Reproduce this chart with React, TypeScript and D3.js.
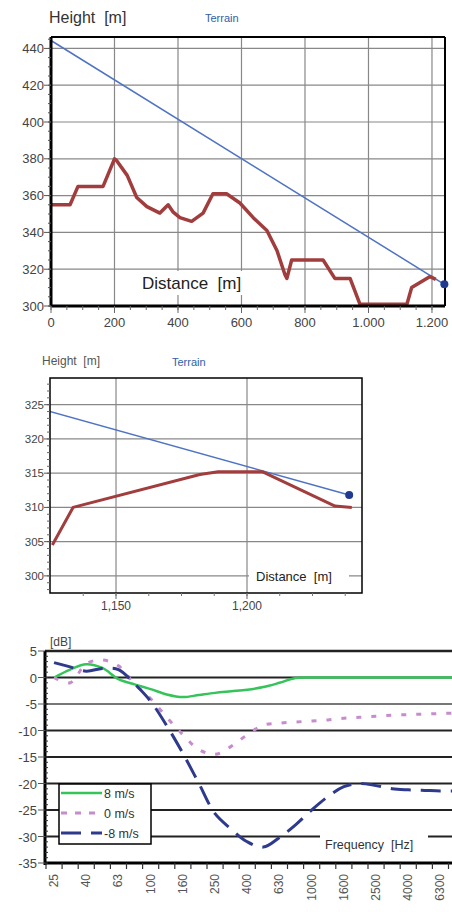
import React from "react";
import * as d3 from "d3";

// ---------- Top chart data ----------
const topDistance = [0, 60, 85, 164, 200, 207, 240, 270, 302, 343, 369, 385, 406, 443, 479, 510, 553, 595, 637, 680, 712, 737, 743, 758, 857, 894, 942, 973, 1121, 1136, 1194, 1212];
const topHeight = [355, 355, 365, 365, 380, 379, 371, 359, 354, 350.5, 355, 351, 348, 346, 350.5, 361, 361, 356, 348, 341, 330, 317, 315, 325, 325, 315, 315, 301, 301, 310, 316, 314.5];
const sightDistance = [0, 1239];
const sightHeight = [444.3, 311.8];
const topXTicks = [0, 200, 400, 600, 800, 1000, 1200];
const topXLabels = ["0", "200", "400", "600", "800", "1.000", "1.200"];
const topYTicks = [300, 320, 340, 360, 380, 400, 420, 440];

// ---------- Middle chart data ----------
const midDistance = [1125.7, 1133.6, 1182, 1189, 1206, 1233.6, 1240];
const midHeight = [304.5, 310, 314.8, 315.2, 315.2, 310.2, 310];
const midXTicks = [1150, 1200];
const midXLabels = ["1,150", "1,200"];
const midYTicks = [300, 305, 310, 315, 320, 325];

// ---------- Bottom chart data ----------
const freqBands = ["25", "31.5", "40", "50", "63", "80", "100", "125", "160", "200", "250", "315", "400", "500", "630", "800", "1000", "1250", "1600", "2000", "2500", "3150", "4000", "5000", "6300", "8000"];
const wind8 = [0, 1.5, 2.5, 1.8, -0.3, -1.3, -2.2, -3.2, -3.7, -3.3, -2.9, -2.6, -2.3, -1.8, -1.0, -0.1, 0, 0, 0, 0, 0, 0, 0, 0, 0, 0];
const wind0 = [0, -1, 2.6, 3.3, 2.2, -1.2, -4.0, -7.5, -10.8, -13.6, -14.5, -13.0, -10.8, -9.0, -8.6, -8.4, -8.2, -8.0, -7.7, -7.5, -7.3, -7.1, -7.0, -6.9, -6.8, -6.7];
const windM8 = [2.8, 2.0, 1.2, 1.7, 1.5, -1.2, -4.5, -9.1, -14.3, -20, -25.7, -28.6, -31.0, -32.0, -30.2, -27.8, -25.0, -22.5, -20.6, -20, -20.4, -21.0, -21.2, -21.3, -21.4, -21.4];
const dbTicks = [5, 0, -5, -10, -15, -20, -25, -30, -35];
const seriesNames = ["8 m/s", "0 m/s", "-8 m/s"];

const FONT = '"Liberation Sans", Arial, sans-serif';
const RED = "#a13d3d";
const BLUE = "#4f73c4";
const GRID = "#888";
const PRE = { whiteSpace: "pre" as const };

function TopChart() {
  const L = 51, R = 445, T = 37, B = 306;
  const x = d3.scaleLinear().domain([0, 1241]).range([L, R]);
  const y = d3.scaleLinear().domain([300, 446.2]).range([B, T]);
  const pts = topDistance.map((d, i) => [d, topHeight[i]] as [number, number]);
  const sight = sightDistance.map((d, i) => [d, sightHeight[i]] as [number, number]);
  const line = d3.line<[number, number]>().x(d => x(d[0])).y(d => y(d[1]));
  const minorY = d3.range(300, 446, 5);
  const minorX = d3.range(0, 1241, 50);
  return (
    <g>
      <defs>
        <clipPath id="clipTop"><rect x={L} y={T} width={R - L} height={B - T} /></clipPath>
      </defs>
      <text x={49} y={23} fontSize={16} fill="#333" style={PRE}>Height  [m]</text>
      <text x={205} y={22} fontSize={11} fill="#2f5ea8">Terrain</text>
      {topXTicks.slice(1).map(t => (
        <line key={"gx" + t} x1={x(t)} x2={x(t)} y1={T} y2={B} stroke={GRID} strokeWidth={1.2} />
      ))}
      {topYTicks.slice(1).map(t => (
        <line key={"gy" + t} x1={L} x2={R} y1={y(t)} y2={y(t)} stroke={GRID} strokeWidth={1.2} />
      ))}
      <rect x={136} y={271} width={122} height={24} fill="#fff" />
      <text x={142} y={289} fontSize={17} fill="#222" style={PRE}>Distance  [m]</text>
      <g clipPath="url(#clipTop)">
        <path d={line(sight) || ""} fill="none" stroke={BLUE} strokeWidth={1.5} />
        <path d={line(pts) || ""} fill="none" stroke={RED} strokeWidth={3.5} strokeLinejoin="round" />
      </g>
      <line x1={L} x2={R} y1={T} y2={T} stroke="#000" strokeWidth={2} />
      <line x1={R} x2={R} y1={T} y2={B} stroke="#000" strokeWidth={2} />
      <line x1={L} x2={L} y1={T} y2={B + 1} stroke="#000" strokeWidth={3} />
      <line x1={L} x2={R} y1={B} y2={B} stroke="#000" strokeWidth={3} />
      {minorY.map(t => (
        <line key={"my" + t} x1={L - 3} x2={L} y1={y(t)} y2={y(t)} stroke="#555" strokeWidth={1} />
      ))}
      {topYTicks.map(t => (
        <g key={"ly" + t}>
          <line x1={L - 7} x2={L} y1={y(t)} y2={y(t)} stroke="#555" strokeWidth={1} />
          <text x={L - 7} y={y(t) + 4.5} fontSize={13} fill="#444" textAnchor="end">{t}</text>
        </g>
      ))}
      {minorX.map(t => (
        <line key={"mx" + t} x1={x(t)} x2={x(t)} y1={B} y2={B + 4} stroke="#666" strokeWidth={1} />
      ))}
      {topXTicks.map((t, i) => (
        <g key={"lx" + t}>
          <line x1={x(t)} x2={x(t)} y1={B} y2={B + 7} stroke="#666" strokeWidth={1} />
          <text x={x(t)} y={327} fontSize={13} fill="#444" textAnchor="middle">{topXLabels[i]}</text>
        </g>
      ))}
      <circle cx={x(sightDistance[1])} cy={y(sightHeight[1])} r={4} fill="#1f3a8f" />
    </g>
  );
}

function MidChart() {
  const L = 50, R = 362, T = 378, B = 593;
  const x = d3.scaleLinear().domain([1124.8, 1243.9]).range([L, R]);
  const y = d3.scaleLinear().domain([297.5, 328.9]).range([B, T]);
  const pts = midDistance.map((d, i) => [d, midHeight[i]] as [number, number]);
  const sight = sightDistance.map((d, i) => [d, sightHeight[i]] as [number, number]);
  const line = d3.line<[number, number]>().x(d => x(d[0])).y(d => y(d[1]));
  const minorY = d3.range(298, 329, 1);
  const minorX = d3.range(1137.5, 1243, 12.5);
  return (
    <g>
      <defs>
        <clipPath id="clipMid"><rect x={L} y={T} width={R - L} height={B - T} /></clipPath>
      </defs>
      <text x={42} y={365} fontSize={12} fill="#555" style={PRE}>Height  [m]</text>
      <text x={172} y={366} fontSize={11} fill="#2f5ea8">Terrain</text>
      {midXTicks.map(t => (
        <line key={"gx" + t} x1={x(t)} x2={x(t)} y1={T} y2={B} stroke={GRID} strokeWidth={1.2} />
      ))}
      {midYTicks.map(t => (
        <line key={"gy" + t} x1={L} x2={R} y1={y(t)} y2={y(t)} stroke={GRID} strokeWidth={1.2} />
      ))}
      <rect x={249} y={566} width={100} height={21} fill="#fff" />
      <text x={256} y={581} fontSize={13} fill="#222" style={PRE}>Distance  [m]</text>
      <g clipPath="url(#clipMid)">
        <path d={line(sight) || ""} fill="none" stroke={BLUE} strokeWidth={1.5} />
        <path d={line(pts) || ""} fill="none" stroke={RED} strokeWidth={3} strokeLinejoin="round" />
      </g>
      <rect x={L} y={T} width={R - L} height={B - T} fill="none" stroke="#000" strokeWidth={1.5} />
      {minorY.map(t => (
        <line key={"my" + t} x1={L - 3} x2={L} y1={y(t)} y2={y(t)} stroke="#666" strokeWidth={1} />
      ))}
      {midYTicks.map(t => (
        <g key={"ly" + t}>
          <line x1={L - 6} x2={L} y1={y(t)} y2={y(t)} stroke="#555" strokeWidth={1} />
          <text x={L - 6} y={y(t) + 4} fontSize={11.5} fill="#444" textAnchor="end">{t}</text>
        </g>
      ))}
      {minorX.map(t => (
        <line key={"mx" + t} x1={x(t)} x2={x(t)} y1={B} y2={B + 3} stroke="#777" strokeWidth={1} />
      ))}
      {midXTicks.map((t, i) => (
        <g key={"lx" + t}>
          <line x1={x(t)} x2={x(t)} y1={B} y2={B + 6} stroke="#666" strokeWidth={1} />
          <text x={x(t)} y={610} fontSize={12} fill="#444" textAnchor="middle">{midXLabels[i]}</text>
        </g>
      ))}
      <circle cx={x(sightDistance[1])} cy={y(sightHeight[1])} r={4} fill="#1f3a8f" />
    </g>
  );
}

function BottomChart() {
  const L = 45, T = 651, B = 863;
  const x = d3.scaleBand<string>().domain(freqBands).range([46, 46 + 16.1 * freqBands.length]).padding(0);
  const y = d3.scaleLinear().domain([-35, 5]).range([B, T]);
  const cx = (f: string) => (x(f) as number) + x.bandwidth() / 2;
  const line = d3.line<number>().x((_, i) => cx(freqBands[i])).y(d => y(d)).curve(d3.curveCatmullRom.alpha(0.5));
  const series = [
    { name: seriesNames[0], values: wind8, color: "#35c35a", dash: "none", width: 2.5 },
    { name: seriesNames[1], values: wind0, color: "#c68ccd", dash: "5,10", width: 3 },
    { name: seriesNames[2], values: windM8, color: "#2e3a8c", dash: "20,10", width: 3 },
  ];
  const minor = d3.range(-35, 5, 1);
  return (
    <g>
      <text x={50} y={646} fontSize={12} fill="#444">[dB]</text>
      {dbTicks.map(t => (
        <line key={"g" + t} x1={L} x2={452} y1={y(t)} y2={y(t)}
          stroke={t === -5 ? "#777" : "#222"} strokeWidth={t === 5 ? 2.5 : 1.8} />
      ))}
      <rect x={320} y={830} width={108} height={26} fill="#fff" />
      <text x={325} y={849} fontSize={12.5} fill="#333" style={PRE}>Frequency  [Hz]</text>
      {series.map(s => (
        <path key={s.name} d={line(s.values) || ""} fill="none" stroke={s.color}
          strokeWidth={s.width} strokeDasharray={s.dash} />
      ))}
      <line x1={L} x2={L} y1={T} y2={B + 2} stroke="#000" strokeWidth={3} />
      <line x1={L} x2={452} y1={B} y2={B} stroke="#000" strokeWidth={3} />
      {minor.map(t => (
        <line key={"m" + t} x1={L} x2={L + 3} y1={y(t)} y2={y(t)} stroke="#333" strokeWidth={1} />
      ))}
      {dbTicks.map(t => (
        <g key={"l" + t}>
          <line x1={L - 7} x2={L} y1={y(t)} y2={y(t)} stroke="#555" strokeWidth={1} />
          <text x={L - 8} y={y(t) + 5} fontSize={13} fill="#444" textAnchor="end">{t}</text>
        </g>
      ))}
      {freqBands.map(f => (
        <line key={"t" + f} x1={x(f) as number} x2={x(f) as number} y1={B} y2={B + 6} stroke="#333" strokeWidth={1.2} />
      ))}
      {freqBands.map((f, i) => i % 2 === 0 ? (
        <text key={"xl" + f} transform={`translate(${cx(f) + 4},874) rotate(-90)`} fontSize={12}
          fill="#555" textAnchor="end">{f}</text>
      ) : null)}
      <rect x={59} y={784} width={92} height={60} fill="#fff" stroke="#000" strokeWidth={1.5} />
      {series.map((s, i) => (
        <g key={"lg" + s.name}>
          <line x1={61} x2={102} y1={793 + i * 20} y2={793 + i * 20} stroke={s.color}
            strokeWidth={s.width} strokeDasharray={s.dash === "5,10" ? "6,8" : s.dash} />
          <text x={104} y={797.5 + i * 20} fontSize={12.5} fill="#333">{s.name}</text>
        </g>
      ))}
    </g>
  );
}

export default function App() {
  return (
    <svg width={452} height={912} style={{ position: "absolute", left: 0, top: 0, background: "#fff", fontFamily: FONT }}>
      <rect x={0} y={0} width={452} height={912} fill="#fff" />
      <TopChart />
      <MidChart />
      <BottomChart />
    </svg>
  );
}
